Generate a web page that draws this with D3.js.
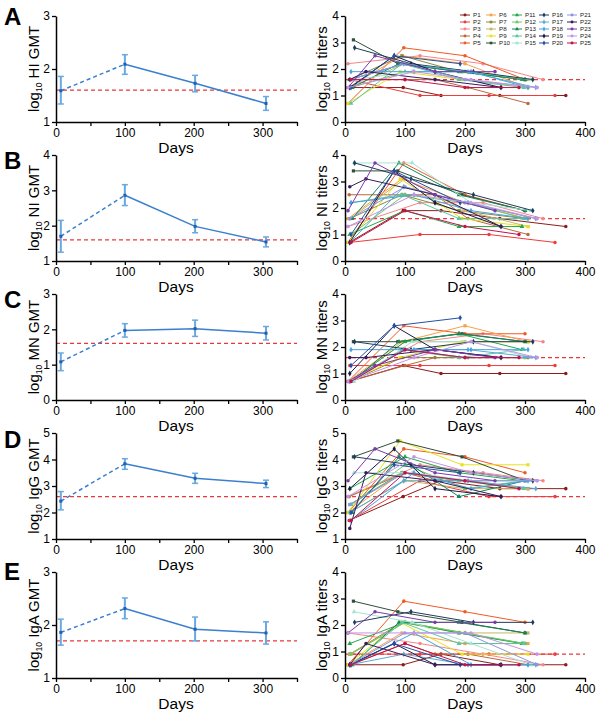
<!DOCTYPE html>
<html><head><meta charset="utf-8">
<script src="https://cdn.jsdelivr.net/npm/d3@7"></script>
<style>body{margin:0;background:#fff}svg{display:block}text{font-family:"Liberation Sans",Arial,sans-serif}</style>
</head><body><svg id="c" width="600" height="713"></svg>
<script>
// ---------- data ----------
const panelLetters = ["A", "B", "C", "D", "E"];
const assayNames = ["HI", "NI", "MN", "IgG", "IgA"];
const gmtDays = [7, 100, 202, 305];
const hiGMT = [1.59, 2.09, 1.73, 1.35], hiLow = [1.34, 1.90, 1.57, 1.22], hiHigh = [1.86, 2.27, 1.88, 1.48];
const niGMT = [1.70, 2.86, 1.98, 1.54], niLow = [1.25, 2.57, 1.80, 1.40], niHigh = [2.15, 3.16, 2.17, 1.68];
const mnGMT = [1.08, 1.97, 2.02, 1.89], mnLow = [0.83, 1.78, 1.80, 1.70], mnHigh = [1.33, 2.16, 2.26, 2.08];
const iggGMT = [2.43, 3.84, 3.29, 3.09], iggLow = [2.10, 3.63, 3.10, 2.94], iggHigh = [2.79, 4.03, 3.48, 3.22];
const igaGMT = [1.86, 2.31, 1.92, 1.85], igaLow = [1.62, 2.12, 1.70, 1.64], igaHigh = [2.11, 2.51, 2.15, 2.06];
const gmtDomains = [[1, 3], [1, 4], [0, 3], [1, 5], [1, 3]];
const gmtThresholds = [1.6, 1.6, 1.6, 2.6, 1.7];
const titerDomains = [[0, 4], [0, 4], [0, 4], [1, 5], [0, 4]];
const titerThresholds = [1.6, 1.6, 1.6, 2.6, 0.9];
const xTicksLeft = [0, 50, 100, 150, 200, 250, 300, 350];
const xTicksRight = [0, 100, 200, 300, 400];

const participants = ["P1","P2","P3","P4","P5","P6","P7","P8","P9","P10","P11","P12","P13","P14","P15","P16","P17","P18","P19","P20","P21","P22","P23","P24","P25"];
const participantColors = ["#8c1c1c","#ee3b3b","#f4868a","#b8693e","#f15a24","#f7a14a","#8a8a3c","#c4b663","#e6e21e","#2f4f3a",
  "#23a84a","#6cc96c","#17875a","#5cc7a0","#a6e3d4","#1e3d5a","#5aaad0","#45a3e3","#191944","#2451a3",
  "#8a96e3","#3b1b5c","#7c3aab","#c394e3","#c2124c"];
const sampleDays = [
  [7, 97, 160, 258, 368], [8, 125, 240, 350], [5, 125, 230, 330], [7, 100, 150, 205, 305], [5, 98, 200, 300],
  [5, 95, 200, 305], [8, 95, 190, 300], [8, 100, 200, 305], [5, 92, 195, 305], [14, 88, 195, 300],
  [8, 100, 190, 295], [10, 100, 200, 300], [12, 90, 190, 300], [10, 95, 190, 298], [15, 112, 210, 310],
  [16, 110, 214, 313], [8, 98, 205, 318], [10, 115, 210, 305], [8, 82, 150, 260], [10, 82, 192],
  [8, 100, 200, 320], [8, 35, 150, 260], [5, 50, 150, 250], [5, 115, 210, 320], [10, 100, 200, 290]
];
const hiTiters = [
  [1.3, 1.3, 1.0, 1.0, 1.0], [1.6, 1.0, 1.0, 1.0], [2.2, 2.5, 2.2, 1.6], [1.6, 1.6, 1.6, 1.3, 0.7], [0.7, 2.8, 2.5, 1.6],
  [1.3, 2.5, 2.2, 1.3], [1.6, 2.5, 1.9, 1.6], [1.3, 2.2, 1.9, 1.6], [0.7, 1.9, 1.6, 1.3], [3.1, 2.2, 1.9, 1.6],
  [1.6, 2.2, 1.9, 1.6], [1.3, 1.9, 1.9, 1.6], [1.3, 2.2, 1.9, 1.6], [0.7, 2.2, 1.6, 1.3], [1.6, 1.9, 1.9, 1.6],
  [2.8, 2.2, 1.9, 1.6], [1.6, 2.2, 1.9, 1.3], [1.9, 1.9, 1.9, 1.3], [1.3, 2.5, 1.9, 1.3], [1.3, 2.5, 2.2],
  [1.6, 2.2, 1.6, 1.3], [1.6, 1.9, 1.6, 1.3], [1.3, 2.5, 1.9, 1.9], [1.3, 1.9, 1.6, 1.3], [1.6, 1.6, 1.3, 1.3]
];
const niTiters = [
  [0.7, 1.9, 1.9, 1.6, 1.3], [0.7, 1.0, 1.0, 0.7], [1.3, 2.2, 2.2, 1.6], [2.5, 2.5, 2.5, 1.6, 1.0], [0.7, 3.7, 2.5, 1.9],
  [1.6, 3.1, 2.2, 1.6], [1.6, 2.5, 1.9, 1.6], [1.6, 3.1, 1.9, 1.3], [0.7, 3.1, 1.6, 1.3], [3.4, 3.4, 2.5, 1.9],
  [1.0, 1.9, 1.3, 1.3], [1.0, 2.5, 2.2, 1.6], [1.6, 3.7, 2.5, 1.9], [2.2, 2.5, 1.6, 1.6], [3.7, 3.7, 2.2, 1.9],
  [3.7, 3.1, 2.5, 1.9], [0.7, 2.8, 2.2, 1.6], [2.2, 2.5, 1.9, 1.6], [0.7, 3.4, 2.2, 1.3], [1.0, 3.4, 2.2],
  [1.6, 2.8, 2.2, 1.6], [2.8, 3.1, 2.5, 1.3], [1.9, 3.7, 2.5, 1.9], [1.3, 2.5, 2.2, 1.6], [0.7, 1.9, 1.3, 1.0]
];
const mnTiters = [
  [0.7, 1.3, 1.0, 1.0, 1.0], [1.3, 1.3, 1.3, 1.3], [0.7, 2.2, 2.5, 2.2], [0.7, 1.3, 1.6, 1.6, 1.6], [0.7, 2.8, 2.5, 2.5],
  [0.7, 2.2, 2.8, 2.2], [0.7, 1.6, 1.6, 1.6], [0.7, 2.2, 2.2, 2.2], [0.7, 1.6, 2.2, 2.2], [2.2, 2.2, 2.5, 2.2],
  [0.7, 2.2, 2.5, 1.9], [0.7, 1.9, 1.6, 1.6], [0.7, 2.2, 2.5, 2.2], [0.7, 1.9, 1.6, 1.9], [0.7, 2.2, 2.2, 1.6],
  [2.2, 1.9, 2.2, 2.2], [0.7, 1.9, 1.9, 1.6], [1.9, 1.9, 1.9, 1.9], [1.0, 2.8, 1.9, 1.6], [1.3, 2.8, 3.1],
  [0.7, 1.9, 1.6, 1.6], [1.6, 1.6, 1.9, 1.6], [0.7, 1.3, 1.9, 1.6], [0.7, 1.6, 2.2, 1.6], [0.7, 1.9, 1.6, 1.6]
];
const iggTiters = [
  [1.7, 2.6, 3.2, 2.9, 2.9], [1.7, 3.2, 2.6, 2.6], [2.6, 3.8, 3.5, 3.2], [2.6, 3.5, 3.2, 3.2, 2.9], [2.0, 4.4, 4.1, 3.5],
  [2.0, 3.5, 3.2, 2.9], [2.3, 3.5, 3.2, 3.2], [2.0, 3.2, 2.9, 2.9], [2.0, 4.7, 3.8, 3.8], [4.1, 4.7, 4.1, 3.2],
  [2.9, 4.1, 3.5, 3.2], [2.3, 3.8, 2.9, 3.2], [2.0, 4.1, 2.6, 3.2], [2.3, 3.5, 3.2, 2.9], [3.5, 3.5, 3.2, 3.2],
  [4.1, 3.8, 3.5, 3.2], [2.0, 3.2, 3.2, 2.9], [1.7, 3.5, 2.9, 3.2], [2.9, 4.4, 2.9, 2.6], [2.0, 3.8, 3.5],
  [2.3, 3.5, 3.2, 3.2], [1.4, 3.5, 3.2, 2.6], [3.2, 4.4, 3.5, 3.2], [2.6, 4.1, 3.5, 3.2], [1.7, 3.5, 3.2, 2.9]
];
const igaTiters = [
  [0.5, 0.5, 0.9, 0.5, 0.5], [0.9, 0.9, 0.9, 0.9], [1.7, 1.3, 0.9, 0.5], [0.5, 1.3, 0.9, 0.9, 0.5], [0.5, 2.9, 2.5, 2.1],
  [0.5, 1.7, 1.3, 1.3], [0.9, 2.1, 1.7, 1.3], [0.9, 2.1, 1.7, 1.7], [0.5, 2.1, 0.9, 0.9], [2.9, 2.5, 2.1, 1.7],
  [1.3, 2.1, 1.7, 1.3], [0.9, 2.1, 1.7, 1.3], [0.5, 2.1, 2.1, 1.7], [0.5, 2.1, 1.3, 1.3], [2.5, 2.1, 1.3, 0.5],
  [2.1, 2.5, 2.1, 2.1], [0.5, 0.9, 0.5, 0.5], [0.5, 1.7, 0.5, 0.5], [0.5, 1.3, 0.5, 0.5], [0.5, 1.3, 0.5],
  [0.5, 1.7, 1.7, 0.5], [0.5, 1.3, 0.5, 0.5], [1.7, 2.5, 2.1, 2.1], [1.7, 1.7, 1.7, 0.9], [0.5, 1.3, 0.5, 0.5]
];

// ---------- layout ----------
const gmtSets = [[hiGMT, hiLow, hiHigh], [niGMT, niLow, niHigh], [mnGMT, mnLow, mnHigh], [iggGMT, iggLow, iggHigh], [igaGMT, igaLow, igaHigh]];
const titerSets = [hiTiters, niTiters, mnTiters, iggTiters, igaTiters];
const panelTops = [16, 155, 294, 433, 572];
const panelH = 106;
const letterY = [25, 169, 308, 448, 580];
const svg = d3.select("#c");
const symbols = [d3.symbolCircle, d3.symbolSquare, d3.symbolTriangle, d3.symbolDiamond, d3.symbolCircle];
const lineBlue = "#3b7fcf", errBlue = "#6aa8e2", redDash = "#e8383d";

function yLabel(g, x, yc, name, suffix) {
  const t = g.append("text").attr("transform", `translate(${x},${yc}) rotate(-90)`)
    .attr("text-anchor", "middle").attr("font-size", 15).attr("fill", "#000");
  t.append("tspan").text("log");
  t.append("tspan").attr("font-size", 8.5).attr("dy", 3).text("10");
  t.append("tspan").attr("dy", -3).text(" " + name + " " + suffix);
}
function styleAxis(g) {
  g.select(".domain").attr("stroke", "#000").attr("stroke-width", 1.5);
  g.selectAll(".tick line").attr("stroke", "#000").attr("stroke-width", 1.3);
  g.selectAll(".tick text").attr("font-size", 12).attr("fill", "#000").attr("font-family", '"Liberation Sans",Arial,sans-serif');
}

panelLetters.forEach((letter, i) => {
  const y0 = panelTops[i], y1 = y0 + panelH;
  svg.append("text").attr("x", 4).attr("y", letterY[i]).attr("font-size", 24).attr("font-weight", "bold").text(letter);

  // ----- left: GMT -----
  const xL = d3.scaleLinear().domain([0, 350]).range([56, 297]);
  const yL = d3.scaleLinear().domain(gmtDomains[i]).range([y1, y0]);
  const gL = svg.append("g");
  gL.append("line").attr("x1", xL(0)).attr("x2", xL(350)).attr("y1", yL(gmtThresholds[i])).attr("y2", yL(gmtThresholds[i]))
    .attr("stroke", redDash).attr("stroke-width", 1.3).attr("stroke-dasharray", "4,3");
  const [gm, lo, hi] = gmtSets[i];
  const pts = gmtDays.map((d, k) => ({ d, v: gm[k], lo: lo[k], hi: hi[k] }));
  const ln = d3.line().x(p => xL(p.d)).y(p => yL(p.v));
  gL.append("path").attr("d", ln(pts.slice(0, 2))).attr("fill", "none").attr("stroke", lineBlue).attr("stroke-width", 1.5).attr("stroke-dasharray", "4,3");
  gL.append("path").attr("d", ln(pts.slice(1))).attr("fill", "none").attr("stroke", lineBlue).attr("stroke-width", 1.5);
  pts.forEach(p => {
    gL.append("line").attr("x1", xL(p.d)).attr("x2", xL(p.d)).attr("y1", yL(p.lo)).attr("y2", yL(p.hi)).attr("stroke", errBlue).attr("stroke-width", 2);
    [p.lo, p.hi].forEach(v => gL.append("line").attr("x1", xL(p.d) - 3).attr("x2", xL(p.d) + 3).attr("y1", yL(v)).attr("y2", yL(v)).attr("stroke", errBlue).attr("stroke-width", 1.5));
    gL.append("rect").attr("x", xL(p.d) - 1.5).attr("y", yL(p.v) - 1.5).attr("width", 3).attr("height", 3).attr("fill", "#1f5fae");
  });
  const yTicksL = d3.range(gmtDomains[i][0], gmtDomains[i][1] + 1);
  const ax1 = gL.append("g").attr("transform", `translate(0,${y1})`)
    .call(d3.axisBottom(xL).tickValues(xTicksLeft).tickFormat(d => d % 100 === 0 ? d : "").tickSize(4).tickPadding(2).tickSizeOuter(0));
  styleAxis(ax1);
  const ay1 = gL.append("g").attr("transform", `translate(${xL(0)},0)`)
    .call(d3.axisLeft(yL).tickValues(yTicksL).tickFormat(d3.format("d")).tickSize(4).tickPadding(2).tickSizeOuter(0));
  styleAxis(ay1);
  gL.append("text").attr("x", 176).attr("y", y1 + 31).attr("text-anchor", "middle").attr("font-size", 15.5).text("Days");
  yLabel(gL, 39, (y0 + y1) / 2, assayNames[i], "GMT");

  // ----- right: individual titers -----
  const xR = d3.scaleLinear().domain([0, 400]).range([345, 585]);
  const yR = d3.scaleLinear().domain(titerDomains[i]).range([y1, y0]);
  const gR = svg.append("g");
  gR.append("line").attr("x1", xR(0)).attr("x2", xR(400)).attr("y1", yR(titerThresholds[i])).attr("y2", yR(titerThresholds[i]))
    .attr("stroke", redDash).attr("stroke-width", 1.3).attr("stroke-dasharray", "4,3");
  const titers = titerSets[i];
  participants.forEach((p, j) => {
    const ser = sampleDays[j].map((d, k) => ({ d, v: titers[j][k] }));
    gR.append("path").attr("d", d3.line().x(q => xR(q.d)).y(q => yR(q.v))(ser))
      .attr("fill", "none").attr("stroke", participantColors[j]).attr("stroke-width", 1);
    ser.forEach(q => gR.append("path").attr("d", d3.symbol().type(symbols[Math.floor(j / 5)]).size(10)())
      .attr("transform", `translate(${xR(q.d)},${yR(q.v)})`).attr("fill", participantColors[j]));
  });
  const ax2 = gR.append("g").attr("transform", `translate(0,${y1})`)
    .call(d3.axisBottom(xR).tickValues(xTicksRight).tickSize(4).tickPadding(2).tickSizeOuter(0));
  styleAxis(ax2);
  const yTicksR = d3.range(titerDomains[i][0], titerDomains[i][1] + 1);
  const ay2 = gR.append("g").attr("transform", `translate(${xR(0)},0)`)
    .call(d3.axisLeft(yR).tickValues(yTicksR).tickFormat(d3.format("d")).tickSize(4).tickPadding(2).tickSizeOuter(0));
  styleAxis(ay2);
  gR.append("text").attr("x", 465).attr("y", y1 + 31).attr("text-anchor", "middle").attr("font-size", 15.5).text("Days");
  yLabel(gR, 327, (y0 + y1) / 2, assayNames[i], "titers");
});

// ----- legend -----
const legCols = [460, 486, 512, 539, 567];
const leg = svg.append("g");
participants.forEach((p, j) => {
  const cx = legCols[Math.floor(j / 5)], cy = 15 + (j % 5) * 7;
  leg.append("line").attr("x1", cx).attr("x2", cx + 10).attr("y1", cy).attr("y2", cy).attr("stroke", participantColors[j]).attr("stroke-width", 1);
  leg.append("path").attr("d", d3.symbol().type(symbols[Math.floor(j / 5)]).size(7)()).attr("transform", `translate(${cx + 5},${cy})`).attr("fill", participantColors[j]);
  leg.append("text").attr("x", cx + 13).attr("y", cy + 2.2).attr("font-size", 6.2).attr("fill", "#222").text(p);
});
</script></body></html>
